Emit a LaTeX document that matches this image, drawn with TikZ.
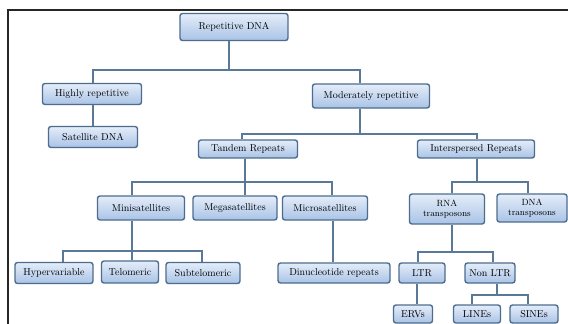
\documentclass[tikz,border=0pt]{standalone}
\usepackage{tikz}
\usepackage{amsmath}
\usepackage{amssymb}

\definecolor{edgeblue}{HTML}{4E6D8E}
\definecolor{lineblue}{HTML}{5A7898}
\definecolor{boxtop}{HTML}{E4EDF9}
\definecolor{boxbot}{HTML}{A9C3E6}

\begin{document}
\begin{tikzpicture}[x=1pt, y=-1pt,
	box/.style={draw=edgeblue, line width=1.4pt, rectangle, rounded corners=2.5pt, top color=boxtop, bottom color=boxbot, inner sep=2pt, minimum height=21pt, font=\fontsize{10}{10.5}\selectfont, align=center},
	conn/.style={draw=lineblue, line width=1.5pt}]
				\useasboundingbox (0,0) rectangle (568,324);
				\fill[white] (0,0) rectangle (568,324);
				\draw[line width=2.6pt, black!85] (8,324) -- (8,10) -- (568,10);
				% level 0 and 1
				\node[box, minimum width=108pt, minimum height=27pt] (rep)at(234, 27) {Repetitive DNA};
				\node[box, minimum width=99pt] (high)at(92, 94) {Highly repetitive};
				\node[box, minimum width=117pt, minimum height=24pt] (mod)at(371, 96) {Moderately repetitive};
				\node[box, minimum width=89pt] (sat)at(93, 137) {Satellite DNA};
				% level 2
				\node[box, minimum width=99pt, minimum height=18pt] (tandem)at(248, 149) {Tandem Repeats};
				\node[box, minimum width=117pt, minimum height=18pt] (inter)at(476, 149) {Interspersed Repeats};
				% level 3
				\node[box, minimum width=87pt, minimum height=24pt] (mini)at(141, 208) {Minisatellites};
				\node[box, minimum width=84pt, minimum height=24pt] (mega)at(235, 208) {Megasatellites};
				\node[box, minimum width=85pt, minimum height=24pt] (micro)at(325, 208) {Microsatellites};
				\node[box, minimum width=75pt, minimum height=30pt, font=\fontsize{9}{9.5}\selectfont] (rna)at(447, 209) {RNA\\transposons};
				\node[box, minimum width=70pt, minimum height=28pt, font=\fontsize{9}{9.5}\selectfont] (dna)at(532, 208) {DNA\\transposons};
				% level 4
				\node[box, minimum width=78pt] (hyper)at(54, 273) {Hypervariable};
				\node[box, minimum width=57pt, minimum height=22pt] (telo)at(130, 272) {Telomeric};
				\node[box, minimum width=74pt] (subtelo)at(203, 273) {Subtelomeric};
				\node[box, minimum width=112pt, minimum height=20pt] (dinuc)at(334, 273) {Dinucleotide repeats};
				\node[box, minimum width=46pt, minimum height=20pt] (ltr)at(422, 273) {LTR};
				\node[box, minimum width=50pt, minimum height=20pt] (nonltr)at(490, 273) {Non LTR};
				% level 5
				\node[box, minimum width=39pt, minimum height=18pt] (ervs)at(413, 314) {ERVs};
				\node[box, minimum width=47pt, minimum height=18pt] (lines)at(477, 314) {LINEs};
				\node[box, minimum width=48pt, minimum height=18pt] (sines)at(534, 314) {SINEs};
				% junctions
				\coordinate (b1) at (229, 70);
				\coordinate (b2) at (360, 134);
				\coordinate (b3) at (245, 182);
				\coordinate (b4) at (477, 182);
				\coordinate (b5) at (132, 251);
				\coordinate (b6) at (452, 252);
				\coordinate (b7) at (497, 295);
				% connectors
				\draw[conn] (rep.south -| b1) -- (b1);
				\draw[conn] ([xshift=1pt]high.north) |- (b1) -| ([xshift=-11pt]mod.north);
				\draw[conn] ([xshift=1pt]high.south) -- ([xshift=1pt]high.south |- sat.north);
				\draw[conn] (mod.south -| b2) -- (b2);
				\draw[conn] ([xshift=-6pt]tandem.north) |- (b2) -| ([xshift=1pt]inter.north);
				\draw[conn] (tandem.south -| b3) -- (b3 |- mega.north);
				\draw[conn] ([xshift=-9pt]mini.north) |- (b3) -| ([xshift=7pt]micro.north);
				\draw[conn] (inter.south -| b4) -- (b4);
				\draw[conn] ([xshift=5pt]rna.north) |- (b4) -| ([xshift=-4pt]dna.north);
				\draw[conn] (mini.south -| b5) -- (b5 |- telo.north);
				\draw[conn] ([xshift=9pt]hyper.north) |- (b5) -| ([xshift=-1pt]subtelo.north);
				\draw[conn] ([xshift=8pt]micro.south) -- ([xshift=8pt]micro.south |- dinuc.north);
				\draw[conn] (rna.south -| b6) -- (b6);
				\draw[conn] ([xshift=-4pt]ltr.north) |- (b6) -| ([xshift=3pt]nonltr.north);
				\draw[conn] ([xshift=-5pt]ltr.south) -- ([xshift=-5pt]ltr.south |- ervs.north);
				\draw[conn] (nonltr.south -| b7) -- (b7);
				\draw[conn] ([xshift=-5pt]lines.north) |- (b7) -| ([xshift=-6pt]sines.north);
			\end{tikzpicture}
\end{document}
